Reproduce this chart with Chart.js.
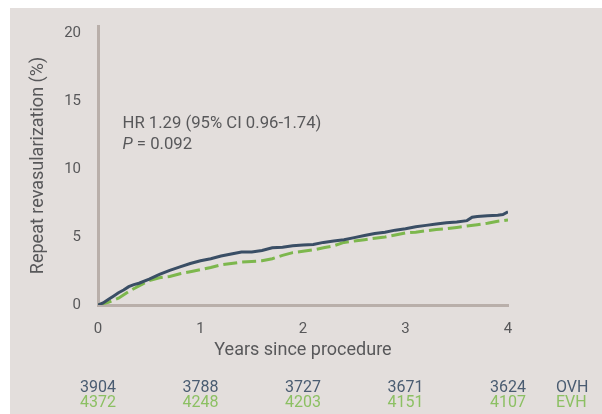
<!DOCTYPE html>
<html>
<head>
<meta charset="utf-8">
<script src="https://cdn.jsdelivr.net/npm/chart.js@4/dist/chart.umd.min.js"></script>
<style>
  html, body { margin: 0; padding: 0; background: #ffffff; }
  #wrap { width: 602px; height: 414px; }
</style>
</head>
<body>
<div id="wrap"><canvas id="c" width="602" height="414"></canvas></div>
<script>
// ---- data ----
const ovhYears = [0, 0.05, 0.1, 0.15, 0.2, 0.25, 0.3, 0.35, 0.4, 0.5, 0.6, 0.7, 0.8, 0.9, 1.0, 1.1, 1.2, 1.3, 1.4, 1.5, 1.6, 1.7, 1.8, 1.9, 2.0, 2.1, 2.2, 2.3, 2.4, 2.5, 2.6, 2.7, 2.8, 2.9, 3.0, 3.1, 3.2, 3.3, 3.4, 3.5, 3.6, 3.65, 3.7, 3.8, 3.9, 3.95, 4.0];
const ovhValues = [0, 0.15, 0.4, 0.65, 0.9, 1.1, 1.35, 1.5, 1.6, 1.9, 2.25, 2.55, 2.8, 3.05, 3.25, 3.4, 3.6, 3.75, 3.9, 3.9, 4.0, 4.2, 4.25, 4.35, 4.4, 4.45, 4.6, 4.7, 4.8, 4.95, 5.1, 5.25, 5.35, 5.5, 5.6, 5.75, 5.85, 5.95, 6.05, 6.1, 6.2, 6.45, 6.5, 6.55, 6.6, 6.65, 6.85];
const evhYears = [0, 0.1, 0.2, 0.3, 0.4, 0.5, 0.6, 0.7, 0.8, 0.9, 1.0, 1.1, 1.2, 1.3, 1.4, 1.5, 1.6, 1.7, 1.8, 1.9, 2.0, 2.1, 2.2, 2.3, 2.4, 2.5, 2.6, 2.7, 2.8, 2.9, 3.0, 3.1, 3.2, 3.3, 3.4, 3.5, 3.6, 3.7, 3.8, 3.9, 4.0];
const evhValues = [0, 0.2, 0.5, 1.0, 1.4, 1.8, 2.0, 2.1, 2.3, 2.45, 2.6, 2.75, 2.95, 3.05, 3.15, 3.2, 3.25, 3.4, 3.65, 3.85, 3.95, 4.05, 4.2, 4.35, 4.6, 4.7, 4.8, 4.9, 5.0, 5.15, 5.3, 5.35, 5.45, 5.55, 5.6, 5.7, 5.8, 5.9, 6.0, 6.15, 6.25];
const yTicks = [0, 5, 10, 15, 20];
const xTicks = [0, 1, 2, 3, 4];
const atRiskOVH = [3904, 3788, 3727, 3671, 3624];
const atRiskEVH = [4372, 4248, 4203, 4151, 4107];
const seriesNames = ['OVH', 'EVH'];
const annotationLines = ['HR 1.29 (95% CI 0.96-1.74)', 'P = 0.092'];

// ---- style ----
const NAVY = '#3a4e65';
const GREEN = '#7db74d';
const GREEN_TXT = '#8cc063';
const NAVY_TXT = '#4a5c71';
const TXT = '#58585a';
const AXIS = '#b9afaa';
const BG = '#e3dedc';
const FONT = 'Roboto';

Chart.defaults.font.family = FONT;

const bgPlugin = {
  id: 'bg',
  beforeDraw(chart) {
    const ctx = chart.ctx;
    ctx.save();
    ctx.fillStyle = '#ffffff';
    ctx.fillRect(0, 0, chart.width, chart.height);
    ctx.fillStyle = BG;
    ctx.fillRect(10, 8, chart.width - 10, chart.height - 8);
    ctx.restore();
  }
};

const textPlugin = {
  id: 'texts',
  afterDraw(chart) {
    const ctx = chart.ctx;
    const xs = chart.scales.x;
    ctx.save();
    // annotation
    ctx.fillStyle = TXT;
    ctx.textBaseline = 'alphabetic';
    ctx.textAlign = 'left';
    ctx.font = '16.7px ' + FONT;
    ctx.fillText(annotationLines[0], 122.5, 127.7);
    ctx.font = 'italic 16.7px ' + FONT;
    const pPart = annotationLines[1].slice(0, 1);
    ctx.fillText(pPart, 122.5, 149.3);
    const pw = ctx.measureText(pPart).width;
    ctx.font = '16.7px ' + FONT;
    ctx.fillText(annotationLines[1].slice(1), 122.5 + pw, 149.3);
    // at-risk table
    ctx.textAlign = 'center';
    ctx.font = '16px ' + FONT;
    xTicks.forEach((t, i) => {
      const px = xs.getPixelForValue(t);
      ctx.fillStyle = NAVY_TXT;
      ctx.fillText(String(atRiskOVH[i]), px, 391.7);
      ctx.fillStyle = GREEN_TXT;
      ctx.fillText(String(atRiskEVH[i]), px, 407.3);
    });
    ctx.textAlign = 'left';
    ctx.fillStyle = NAVY_TXT;
    ctx.fillText(seriesNames[0], 556, 391.7);
    ctx.fillStyle = GREEN_TXT;
    ctx.fillText(seriesNames[1], 556, 407.3);
    ctx.restore();
  }
};

new Chart(document.getElementById('c'), {
  type: 'line',
  data: {
    datasets: [
      {
        label: seriesNames[0],
        data: ovhYears.map((x, i) => ({ x: x, y: ovhValues[i] })),
        borderColor: NAVY,
        borderWidth: 3,
        pointRadius: 0,
        tension: 0,
        fill: false
      },
      {
        label: seriesNames[1],
        data: evhYears.map((x, i) => ({ x: x, y: evhValues[i] })),
        borderColor: GREEN,
        borderWidth: 3,
        borderDash: [14, 5],
        pointRadius: 0,
        tension: 0,
        fill: false
      }
    ]
  },
  options: {
    responsive: false,
    animation: false,
    layout: { padding: { left: 10, top: 25, right: 94, bottom: 49 } },
    plugins: { legend: { display: false }, tooltip: { enabled: false } },
    scales: {
      x: {
        type: 'linear',
        min: 0,
        max: 4,
        afterBuildTicks(scale) { scale.ticks = xTicks.map(v => ({ value: v })); },
        afterFit(scale) { scale.height = 60; },
        grid: { display: false, drawTicks: false },
        border: { display: true, color: AXIS, width: 3 },
        ticks: { color: TXT, font: { size: 15 }, padding: 15 },
        title: { display: true, text: 'Years since procedure', color: TXT, font: { size: 18 }, padding: { top: 0, bottom: 3.7 } }
      },
      y: {
        min: 0,
        max: 20.5,
        afterBuildTicks(scale) { scale.ticks = yTicks.map(v => ({ value: v })); },
        afterFit(scale) { scale.width = 88; },
        grid: { display: false, drawTicks: false },
        border: { display: true, color: AXIS, width: 3 },
        ticks: { color: TXT, font: { size: 15 }, padding: 17 },
        title: { display: true, text: 'Repeat revasularization (%)', color: TXT, font: { size: 18 }, padding: { top: 17.8, bottom: 0 } }
      }
    }
  },
  plugins: [bgPlugin, textPlugin]
});
</script>
</body>
</html>
